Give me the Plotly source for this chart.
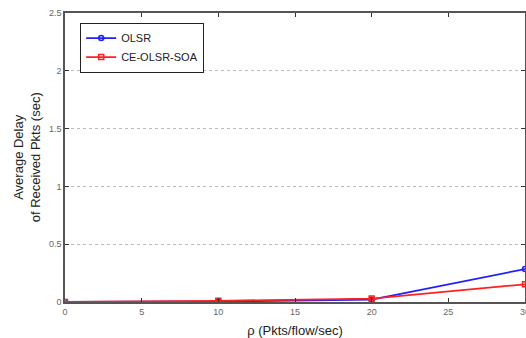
import plotly.graph_objects as go

rho = [0, 10, 20, 30]
olsr = [0.0, 0.005, 0.02, 0.285]
ce_olsr_soa = [0.0, 0.01, 0.03, 0.153]
x_ticks = [0, 5, 10, 15, 20, 25, 30]
y_ticks = [0, 0.5, 1, 1.5, 2, 2.5]
y_tick_labels = ["0", "0.5", "1", "1.5", "2", "2.5"]

fig = go.Figure()
fig.add_trace(go.Scatter(x=rho, y=olsr, name="OLSR", mode="lines+markers",
                         line=dict(color="#1f1fff", width=1.8),
                         marker=dict(symbol="circle-open", size=5, color="#1f1fff", line=dict(width=1.5))))
fig.add_trace(go.Scatter(x=rho, y=ce_olsr_soa, name="CE-OLSR-SOA", mode="lines+markers",
                         line=dict(color="#ff2020", width=1.8),
                         marker=dict(symbol="square-open", size=5, color="#ff2020", line=dict(width=1.5))))

fig.update_layout(
    width=526, height=338,
    margin=dict(l=65, r=1, t=13, b=36),
    paper_bgcolor="white", plot_bgcolor="white",
    font=dict(family="Arial, Liberation Sans, sans-serif", color="#222"),
    showlegend=True,
    legend=dict(x=0.033, y=0.967, xanchor="left", yanchor="top",
                bordercolor="#222", borderwidth=1, bgcolor="white",
                font=dict(size=11, color="#222"), tracegroupgap=0,
                itemwidth=30),
    xaxis=dict(range=[0, 30], tickvals=x_ticks, ticks="inside", ticklen=4,
               tickcolor="#333", showgrid=False, zeroline=False, automargin=False,
               showline=True, linecolor="#555", linewidth=1.5, mirror="allticks",
               tickfont=dict(size=9, color="#666"), ticklabeloverflow="allow",
               title=dict(text="ρ (Pkts/flow/sec)", font=dict(size=13, color="#222"))),
    yaxis=dict(range=[0, 2.5], tickvals=y_ticks, ticktext=y_tick_labels, ticks="inside", ticklen=4,
               tickcolor="#333", showgrid=True, gridcolor="#bbb", griddash="dot", gridwidth=1,
               zeroline=False, showline=True, linecolor="#555", linewidth=1.5, mirror="allticks",
               tickfont=dict(size=9, color="#666"), automargin=False),
    annotations=[dict(text="Average Delay<br>of Received Pkts (sec)", xref="paper", yref="paper",
                      x=-0.083, y=0.5, xanchor="center", yanchor="middle", textangle=-90,
                      showarrow=False, font=dict(size=13, color="#222"))],
)

fig.write_html("out.html", post_script="document.body.style.margin='0';",
               config={"displayModeBar": False})
